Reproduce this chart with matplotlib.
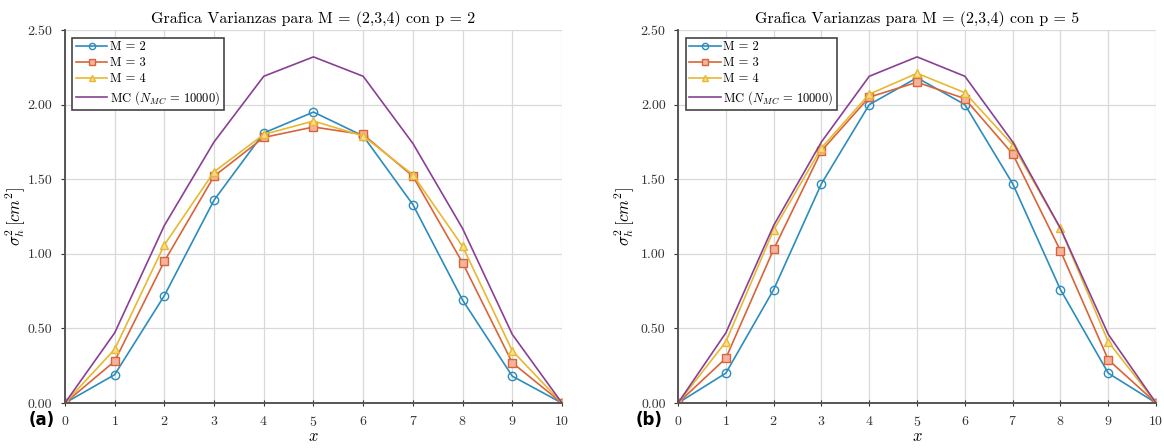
import numpy as np
import matplotlib
matplotlib.use("Agg")
import matplotlib.pyplot as plt

plt.rcParams['font.family'] = 'serif'
plt.rcParams['font.serif'] = ['cmr10', 'DejaVu Serif']
plt.rcParams['mathtext.fontset'] = 'cm'
plt.rcParams['axes.formatter.use_mathtext'] = True

x = np.arange(0, 11)

# p = 2
m2_p2 = [0, 0.19, 0.72, 1.36, 1.81, 1.95, 1.79, 1.33, 0.69, 0.18, 0]
m3_p2 = [0, 0.28, 0.95, 1.52, 1.78, 1.85, 1.80, 1.52, 0.94, 0.27, 0]
m4_p2 = [0, 0.36, 1.06, 1.55, 1.80, 1.89, 1.79, 1.53, 1.05, 0.35, 0]
mc_p2 = [0, 0.47, 1.19, 1.75, 2.19, 2.32, 2.19, 1.74, 1.17, 0.46, 0]

# p = 5
m2_p5 = [0, 0.20, 0.76, 1.47, 2.00, 2.18, 2.00, 1.47, 0.76, 0.20, 0]
m3_p5 = [0, 0.30, 1.03, 1.69, 2.05, 2.15, 2.04, 1.67, 1.02, 0.29, 0]
m4_p5 = [0, 0.41, 1.16, 1.71, 2.07, 2.21, 2.08, 1.73, 1.17, 0.41, 0]
mc_p5 = [0, 0.47, 1.19, 1.75, 2.19, 2.32, 2.19, 1.75, 1.17, 0.46, 0]

titles = ['Grafica Varianzas para M = (2,3,4) con p = 2',
          'Grafica Varianzas para M = (2,3,4) con p = 5']
panel_tags = ['(a)', '(b)']

c_blue = '#2b8cbe'
c_orange = '#d9643a'
c_yellow = '#e8b830'
c_purple = '#8a3f95'

fig = plt.figure(figsize=(11.64, 4.48), dpi=100)
ax1 = fig.add_axes([0.0558, 0.1004, 0.427, 0.8326])
ax2 = fig.add_axes([0.5825, 0.1004, 0.4107, 0.8326])

datasets = [(m2_p2, m3_p2, m4_p2, mc_p2), (m2_p5, m3_p5, m4_p5, mc_p5)]
ylab_x = [-0.074, -0.086]
tag_x = [-0.02, -0.033]

for i, ax in enumerate([ax1, ax2]):
    m2, m3, m4, mc = datasets[i]
    ax.plot(x, m2, color=c_blue, marker='o', mfc='none', ms=6, lw=1.2, label='M = 2')
    ax.plot(x, m3, color=c_orange, marker='s', mfc='#f2b49c', ms=5.5, lw=1.2, label='M = 3')
    ax.plot(x, m4, color=c_yellow, marker='^', mfc='#f6dc8e', ms=6, lw=1.2, label='M = 4')
    ax.plot(x, mc, color=c_purple, lw=1.2, label=r'MC ($N_{MC}$ = 10000)')
    ax.set_xlim(0, 10)
    ax.set_ylim(0, 2.5)
    ax.set_xticks(x)
    yt = np.arange(0, 2.51, 0.5)
    ax.set_yticks(yt)
    ax.set_yticklabels(['%.2f' % v for v in yt])
    ax.grid(True, color='#d9d9d9', lw=0.9)
    ax.set_axisbelow(True)
    for s in ['top', 'right']:
        ax.spines[s].set_visible(False)
    for s in ['left', 'bottom']:
        ax.spines[s].set_color('#555555')
        ax.spines[s].set_linewidth(1.4)
    ax.tick_params(axis='y', direction='out', length=3, labelsize=10, colors='#333333', pad=6)
    ax.tick_params(axis='x', direction='inout', length=5, labelsize=10, colors='#333333', pad=6)
    ax.set_title(titles[i], fontsize=11.5, pad=5)
    ax.set_xlabel('$x$', fontsize=12, labelpad=0)
    ax.set_ylabel(r'$\sigma_h^2\,[cm^2]$', fontsize=12)
    ax.yaxis.set_label_coords(ylab_x[i], 0.5)
    leg = ax.legend(loc='upper left', fontsize=9, fancybox=False, framealpha=1,
                    edgecolor='#444444', borderpad=0.3, labelspacing=0.3,
                    handlelength=2.5, handletextpad=0.2, borderaxespad=0.6,
                    markerscale=0.75)
    leg.get_frame().set_linewidth(1.2)
    ax.text(tag_x[i], -0.022, panel_tags[i], transform=ax.transAxes, fontsize=12,
            fontweight='bold', family='DejaVu Sans', ha='right', va='top')

fig.savefig('out.png', dpi=100)
